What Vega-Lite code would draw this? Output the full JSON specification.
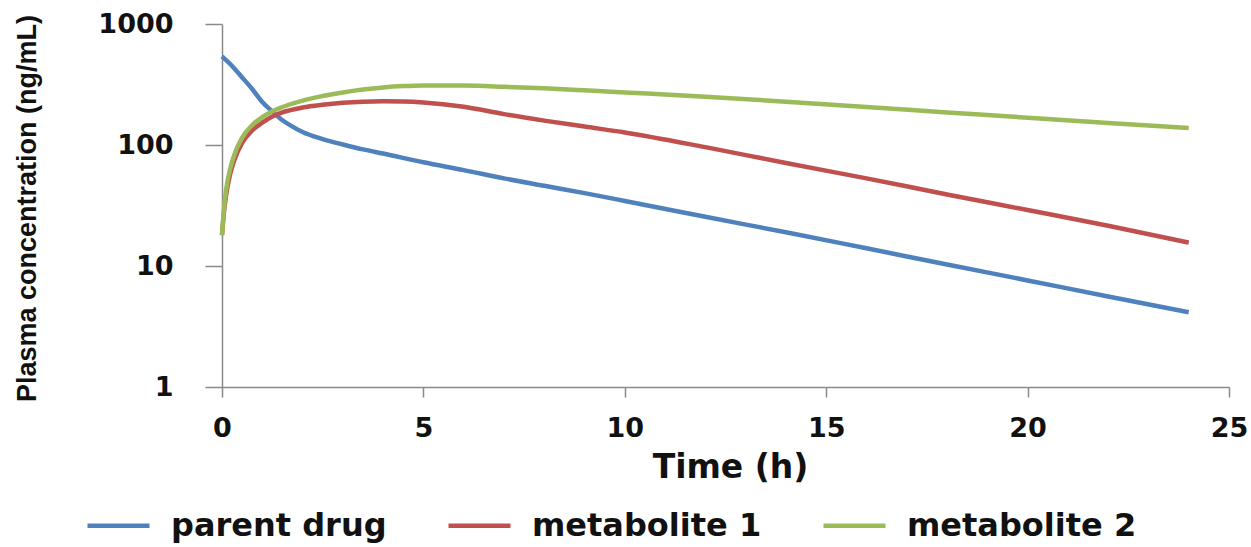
{
  "$schema": "https://vega.github.io/schema/vega-lite/v6.json",
  "autosize": "none",
  "width": 1007,
  "height": 363,
  "padding": {"left": 222, "top": 24, "right": 22, "bottom": 160},
  "background": "white",
  "config": {"view": {"stroke": null}},
  "data": {
    "values": [
      {"t": 0, "c": 540, "s": "parent drug"},
      {"t": 0.25, "c": 450, "s": "parent drug"},
      {"t": 0.5, "c": 362, "s": "parent drug"},
      {"t": 0.75, "c": 290, "s": "parent drug"},
      {"t": 1, "c": 227, "s": "parent drug"},
      {"t": 1.25, "c": 189, "s": "parent drug"},
      {"t": 1.5, "c": 160, "s": "parent drug"},
      {"t": 1.75, "c": 142, "s": "parent drug"},
      {"t": 2, "c": 128, "s": "parent drug"},
      {"t": 2.5, "c": 112, "s": "parent drug"},
      {"t": 3, "c": 101, "s": "parent drug"},
      {"t": 3.5, "c": 92, "s": "parent drug"},
      {"t": 4, "c": 85, "s": "parent drug"},
      {"t": 5, "c": 72, "s": "parent drug"},
      {"t": 6, "c": 62, "s": "parent drug"},
      {"t": 7, "c": 53, "s": "parent drug"},
      {"t": 8, "c": 46, "s": "parent drug"},
      {"t": 9, "c": 40, "s": "parent drug"},
      {"t": 10, "c": 34.5, "s": "parent drug"},
      {"t": 12, "c": 25.5, "s": "parent drug"},
      {"t": 14, "c": 19, "s": "parent drug"},
      {"t": 16, "c": 14, "s": "parent drug"},
      {"t": 18, "c": 10.3, "s": "parent drug"},
      {"t": 20, "c": 7.6, "s": "parent drug"},
      {"t": 22, "c": 5.6, "s": "parent drug"},
      {"t": 24, "c": 4.15, "s": "parent drug"},
      {"t": 0, "c": 18, "s": "metabolite 1"},
      {"t": 0.05, "c": 28, "s": "metabolite 1"},
      {"t": 0.1, "c": 38, "s": "metabolite 1"},
      {"t": 0.2, "c": 57, "s": "metabolite 1"},
      {"t": 0.3, "c": 74, "s": "metabolite 1"},
      {"t": 0.5, "c": 104, "s": "metabolite 1"},
      {"t": 0.75, "c": 132, "s": "metabolite 1"},
      {"t": 1, "c": 153, "s": "metabolite 1"},
      {"t": 1.25, "c": 172, "s": "metabolite 1"},
      {"t": 1.5, "c": 186, "s": "metabolite 1"},
      {"t": 2, "c": 204, "s": "metabolite 1"},
      {"t": 2.5, "c": 215, "s": "metabolite 1"},
      {"t": 3, "c": 223, "s": "metabolite 1"},
      {"t": 3.5, "c": 228, "s": "metabolite 1"},
      {"t": 4, "c": 230, "s": "metabolite 1"},
      {"t": 4.5, "c": 229, "s": "metabolite 1"},
      {"t": 5, "c": 225, "s": "metabolite 1"},
      {"t": 6, "c": 207, "s": "metabolite 1"},
      {"t": 7, "c": 180, "s": "metabolite 1"},
      {"t": 8, "c": 159, "s": "metabolite 1"},
      {"t": 9, "c": 142, "s": "metabolite 1"},
      {"t": 10, "c": 127, "s": "metabolite 1"},
      {"t": 12, "c": 96, "s": "metabolite 1"},
      {"t": 14, "c": 71, "s": "metabolite 1"},
      {"t": 16, "c": 53, "s": "metabolite 1"},
      {"t": 18, "c": 39, "s": "metabolite 1"},
      {"t": 20, "c": 29, "s": "metabolite 1"},
      {"t": 22, "c": 21.5, "s": "metabolite 1"},
      {"t": 24, "c": 15.6, "s": "metabolite 1"},
      {"t": 0, "c": 18, "s": "metabolite 2"},
      {"t": 0.05, "c": 30, "s": "metabolite 2"},
      {"t": 0.1, "c": 42, "s": "metabolite 2"},
      {"t": 0.2, "c": 63, "s": "metabolite 2"},
      {"t": 0.3, "c": 82, "s": "metabolite 2"},
      {"t": 0.5, "c": 115, "s": "metabolite 2"},
      {"t": 0.75, "c": 146, "s": "metabolite 2"},
      {"t": 1, "c": 170, "s": "metabolite 2"},
      {"t": 1.25, "c": 190, "s": "metabolite 2"},
      {"t": 1.5, "c": 206, "s": "metabolite 2"},
      {"t": 2, "c": 233, "s": "metabolite 2"},
      {"t": 2.5, "c": 254, "s": "metabolite 2"},
      {"t": 3, "c": 272, "s": "metabolite 2"},
      {"t": 3.5, "c": 287, "s": "metabolite 2"},
      {"t": 4, "c": 299, "s": "metabolite 2"},
      {"t": 4.5, "c": 307, "s": "metabolite 2"},
      {"t": 5, "c": 311, "s": "metabolite 2"},
      {"t": 6, "c": 310, "s": "metabolite 2"},
      {"t": 7, "c": 303, "s": "metabolite 2"},
      {"t": 8, "c": 294, "s": "metabolite 2"},
      {"t": 9, "c": 283, "s": "metabolite 2"},
      {"t": 10, "c": 272, "s": "metabolite 2"},
      {"t": 12, "c": 251, "s": "metabolite 2"},
      {"t": 14, "c": 228, "s": "metabolite 2"},
      {"t": 16, "c": 206, "s": "metabolite 2"},
      {"t": 18, "c": 186, "s": "metabolite 2"},
      {"t": 20, "c": 168, "s": "metabolite 2"},
      {"t": 22, "c": 152, "s": "metabolite 2"},
      {"t": 24, "c": 138, "s": "metabolite 2"}
    ]
  },
  "mark": {"type": "line", "strokeWidth": 4.5, "interpolate": "monotone"},
  "encoding": {
    "x": {
      "field": "t",
      "type": "quantitative",
      "scale": {"domain": [0, 25], "nice": false, "zero": false},
      "axis": {
        "title": "Time (h)",
        "values": [0, 5, 10, 15, 20, 25],
        "grid": false,
        "domainColor": "#8a8a8a",
        "domainWidth": 1.5,
        "tickColor": "#8a8a8a",
        "tickWidth": 1.5,
        "tickSize": 10,
        "labelPadding": 18,
        "labelFont": "DejaVu Sans",
        "labelFontWeight": "bold",
        "labelFontSize": 27,
        "labelColor": "#111111",
        "labelFlush": false,
        "labelOverlap": false,
        "titleFont": "DejaVu Sans",
        "titleFontWeight": "bold",
        "titleFontSize": 33,
        "titleColor": "#111111",
        "titleX": 508,
        "titleY": 90,
        "titleAlign": "center",
        "titleBaseline": "alphabetic"
      }
    },
    "y": {
      "field": "c",
      "type": "quantitative",
      "scale": {"type": "log", "domain": [1, 1000], "nice": false},
      "axis": {
        "title": "Plasma concentration (ng/mL)",
        "values": [1, 10, 100, 1000],
        "format": "d",
        "grid": false,
        "domainColor": "#8a8a8a",
        "domainWidth": 1.5,
        "tickColor": "#8a8a8a",
        "tickWidth": 1.5,
        "tickSize": 17,
        "labelPadding": 32,
        "labelFont": "DejaVu Sans",
        "labelFontWeight": "bold",
        "labelFontSize": 27,
        "labelColor": "#111111",
        "labelFlush": false,
        "labelOverlap": false,
        "titleFont": "Liberation Sans",
        "titleFontWeight": "bold",
        "titleFontSize": 27,
        "titleColor": "#111111",
        "titleAngle": 270,
        "titleX": -187,
        "titleY": 184,
        "titleAlign": "center",
        "titleBaseline": "alphabetic"
      }
    },
    "color": {
      "field": "s",
      "type": "nominal",
      "scale": {
        "domain": ["parent drug", "metabolite 1", "metabolite 2"],
        "range": ["#4f81bd", "#c0504d", "#9bbb59"]
      },
      "legend": {
        "title": null,
        "orient": "none",
        "direction": "horizontal",
        "legendX": -137,
        "legendY": 468,
        "symbolType": "stroke",
        "symbolSize": 3844,
        "symbolStrokeWidth": 4.5,
        "labelFont": "DejaVu Sans",
        "labelFontWeight": "bold",
        "labelFontSize": 32,
        "labelColor": "#111111",
        "labelOffset": 19,
        "columnPadding": 52,
        "labelLimit": 400
      }
    }
  }
}
